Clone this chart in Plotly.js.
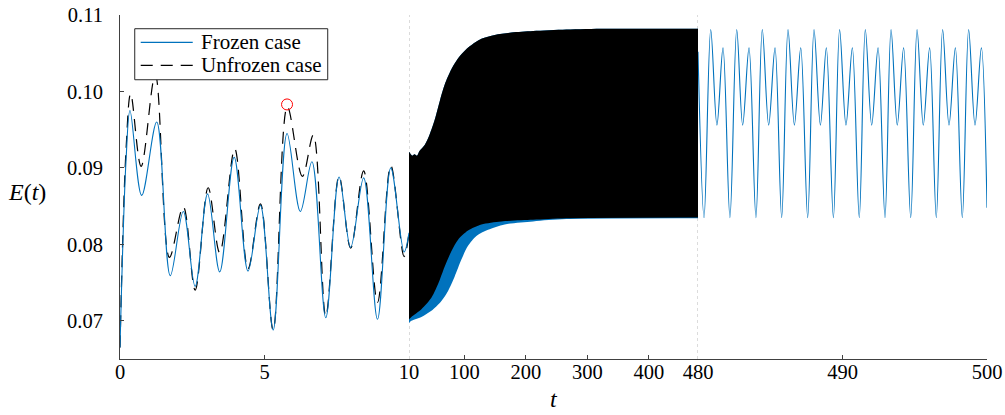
<!DOCTYPE html>
<html><head><meta charset="utf-8">
<script src="https://cdn.plot.ly/plotly-3.0.1.min.js"></script>
<style>html,body{margin:0;padding:0;background:#fff;}#chart{width:1005px;height:415px;}</style>
</head><body><div id="chart"></div>
<script>
// Panel 1 (t = 0..10)
const frozenT1 = [0, 0.21, 0.346, 0.751, 1.27, 1.74, 2.19, 2.60, 3.03, 3.45, 3.95, 4.43, 4.86, 5.30, 5.78, 6.24, 6.64, 7.12, 7.58, 7.98, 8.43, 8.91, 9.37, 9.83, 10];
const frozenE1 = [0.0665, 0.0911, 0.0975, 0.0864, 0.0960, 0.0759, 0.0843, 0.0745, 0.0866, 0.0764, 0.0914, 0.0765, 0.0851, 0.0688, 0.0945, 0.0843, 0.0908, 0.0704, 0.0888, 0.0796, 0.0887, 0.0702, 0.0900, 0.0790, 0.0815];
const unfrozenT1 = [0, 0.21, 0.37, 0.73, 1.22, 1.71, 2.19, 2.60, 3.05, 3.45, 3.97, 4.43, 4.86, 5.30, 5.79, 6.31, 6.69, 7.12, 7.58, 7.98, 8.43, 8.91, 9.37, 9.83, 10];
const unfrozenE1 = [0.0665, 0.0925, 0.0997, 0.0902, 0.1022, 0.0783, 0.0849, 0.0740, 0.0874, 0.0789, 0.0925, 0.0768, 0.0853, 0.0688, 0.0980, 0.0889, 0.0943, 0.0706, 0.0889, 0.0795, 0.0896, 0.0724, 0.0903, 0.0784, 0.0815];
const markerT = [5.78];
const markerE = [0.0983];

// Panel 2 (t = 10..480): envelopes of the fast oscillation
const unfrozenUpperT2 = [10, 11, 15, 19, 23, 27, 35.5, 43.7, 51.8, 59.9, 68.1, 78.9, 92.4, 108.7, 127.7, 149.4, 176.5, 211.7, 266, 330, 400, 480];
const unfrozenUpper2 = [0.0921, 0.0920, 0.0916, 0.0918, 0.0916, 0.0922, 0.0930, 0.0944, 0.0963, 0.0987, 0.1009, 0.1029, 0.1046, 0.1059, 0.1069, 0.1074, 0.1077, 0.1079, 0.1081, 0.1082, 0.1082, 0.1082];
const unfrozenLowerT2 = [10, 13.9, 30.2, 46.4, 57.3, 68.1, 78.9, 89.8, 106, 127.7, 160.2, 211.7, 266, 480];
const unfrozenLower2 = [0.0702, 0.0705, 0.0715, 0.0730, 0.0748, 0.0771, 0.0791, 0.0806, 0.0818, 0.0826, 0.0830, 0.0832, 0.0834, 0.0835];
const frozenLowerT2 = [10, 13.9, 30.2, 46.4, 62.7, 73.5, 84.3, 95.2, 106, 119.6, 138.5, 165.6, 211.7, 266, 480];
const frozenLower2 = [0.0697, 0.0700, 0.0705, 0.0713, 0.0726, 0.0739, 0.0758, 0.0780, 0.0798, 0.0811, 0.0819, 0.0826, 0.0830, 0.0833, 0.0834];
const frozenUpperT2 = [10, 11, 15, 19, 23, 27, 35.5, 43.7, 51.8, 59.9, 68.1, 78.9, 92.4, 108.7, 127.7, 149.4, 176.5, 211.7, 266, 330, 400, 480];
const frozenUpper2 = [0.0921, 0.0920, 0.0916, 0.0918, 0.0916, 0.0922, 0.0930, 0.0944, 0.0963, 0.0987, 0.1009, 0.1029, 0.1046, 0.1059, 0.1069, 0.1074, 0.1077, 0.1079, 0.1081, 0.1082, 0.1082, 0.1082];

// Panel 3 (t = 480..500)
const frozenT3 = [480.00,
  480.42, 480.88, 481.31, 481.73,
  482.21, 482.68, 483.09, 483.53,
  484.01, 484.45, 484.89, 485.33,
  485.79, 486.23, 486.67, 487.11,
  487.59, 488.03, 488.47, 488.88,
  489.37, 489.80, 490.24, 490.68,
  491.16, 491.58, 492.02, 492.46,
  492.94, 493.36, 493.79, 494.23,
  494.72, 495.16, 495.59, 496.03,
  496.49, 496.93, 497.37, 497.81,
  498.29, 498.73, 499.17, 499.61,
  500.00];
const frozenE3 = [0.1052,
  0.0835, 0.1081, 0.0956, 0.1057,
  0.0835, 0.1081, 0.0956, 0.1057,
  0.0835, 0.1081, 0.0956, 0.1057,
  0.0835, 0.1081, 0.0956, 0.1057,
  0.0835, 0.1081, 0.0956, 0.1057,
  0.0835, 0.1081, 0.0956, 0.1057,
  0.0835, 0.1081, 0.0956, 0.1057,
  0.0835, 0.1081, 0.0956, 0.1057,
  0.0835, 0.1081, 0.0956, 0.1057,
  0.0835, 0.1081, 0.0956, 0.1057,
  0.0835, 0.1081, 0.0956, 0.1057,
  0.0848];

const xTicks1 = [0, 5, 10];
const xTicks2 = [100, 200, 300, 400, 480];
const xTicks3 = [490, 500];
const yTicks = [0.07, 0.08, 0.09, 0.10, 0.11];
const legendLabels = ['Frozen case', 'Unfrozen case'];

const BLUE = '#0072BD';
const AX = '#404040';
const FONT = 'Liberation Serif';
const DASH = '12px,8px';

const traces = [
  {x: unfrozenT1, y: unfrozenE1, xaxis: 'x', yaxis: 'y', mode: 'lines', name: legendLabels[1],
   line: {color: '#000', width: 1.2, dash: DASH, shape: 'spline'}},
  {x: frozenT1, y: frozenE1, xaxis: 'x', yaxis: 'y', mode: 'lines', name: legendLabels[0],
   line: {color: BLUE, width: 1.1, shape: 'spline'}},
  {x: markerT, y: markerE, xaxis: 'x', yaxis: 'y', mode: 'markers',
   marker: {symbol: 'circle-open', size: 11, color: '#ff0000', line: {width: 1, color: '#ff0000'}}},
  // panel 2 bands
  {x: frozenLowerT2, y: frozenLower2, xaxis: 'x2', yaxis: 'y', mode: 'lines',
   line: {width: 0, color: BLUE, shape: 'spline', smoothing: 0.8}},
  {x: frozenUpperT2, y: frozenUpper2, xaxis: 'x2', yaxis: 'y', mode: 'lines',
   fill: 'tonexty', fillcolor: BLUE, line: {width: 0, color: BLUE, shape: 'spline', smoothing: 0.8}},
  {x: unfrozenLowerT2, y: unfrozenLower2, xaxis: 'x2', yaxis: 'y', mode: 'lines',
   line: {width: 0, color: '#000', shape: 'spline', smoothing: 0.8}},
  {x: unfrozenUpperT2, y: unfrozenUpper2, xaxis: 'x2', yaxis: 'y', mode: 'lines',
   fill: 'tonexty', fillcolor: '#000', line: {width: 0, color: '#000', shape: 'spline', smoothing: 0.8}},
  // panel 3
  {x: frozenT3, y: frozenE3, xaxis: 'x3', yaxis: 'y', mode: 'lines',
   line: {color: BLUE, width: 1.1, shape: 'spline'}}
];

const xCommon = {
  showline: true, linecolor: AX, linewidth: 1, ticks: 'inside', ticklen: 4, tickwidth: 1, tickcolor: AX,
  showgrid: false, zeroline: false, anchor: 'y', tickmode: 'array', ticklabelstandoff: -6,
  tickfont: {family: FONT, size: 20.5, color: '#000'}
};

// legend geometry in paper coordinates
const LEG = {x0: 0.0170, x1: 0.2396, y0: 0.8118, y1: 0.9601, lx0: 0.0239, lx1: 0.0839, tx: 0.0908, rows: [0.9203, 0.8534]};

const layout = {
  width: 1005, height: 415,
  margin: {l: 120, r: 18, t: 15, b: 56},
  paper_bgcolor: '#fff', plot_bgcolor: 'rgba(0,0,0,0)',
  showlegend: false,
  font: {family: FONT, color: '#000'},
  xaxis: Object.assign({}, xCommon, {domain: [0, 1/3], range: [0, 10], tickvals: xTicks1}),
  xaxis2: Object.assign({}, xCommon, {domain: [1/3, 2/3], range: [10, 480], tickvals: xTicks2}),
  xaxis3: Object.assign({}, xCommon, {domain: [2/3, 1], range: [480, 500], tickvals: xTicks3}),
  yaxis: {range: [0.065, 0.11], tickvals: yTicks, tickformat: '.2f', anchor: 'x',
    showline: true, linecolor: AX, linewidth: 1, ticks: 'inside', ticklen: 4, tickwidth: 1, tickcolor: AX,
    ticklabelstandoff: 12,
    showgrid: false, zeroline: false, tickfont: {family: FONT, size: 20.5, color: '#000'}},
  shapes: [
    {type: 'line', xref: 'x2', yref: 'paper', x0: 10, x1: 10, y0: 0, y1: 1, layer: 'below',
     line: {color: '#b8b8b8', width: 1, dash: 'dot'}},
    {type: 'line', xref: 'x2', yref: 'paper', x0: 480, x1: 480, y0: 0, y1: 1, layer: 'below',
     line: {color: '#b8b8b8', width: 1, dash: 'dot'}},
    {type: 'rect', xref: 'paper', yref: 'paper', x0: LEG.x0, x1: LEG.x1, y0: LEG.y0, y1: LEG.y1, layer: 'above',
     fillcolor: '#fff', line: {color: '#262626', width: 1}},
    {type: 'line', xref: 'paper', yref: 'paper', x0: LEG.lx0, x1: LEG.lx1, y0: LEG.rows[0], y1: LEG.rows[0], layer: 'above',
     line: {color: BLUE, width: 1.1}},
    {type: 'line', xref: 'paper', yref: 'paper', x0: LEG.lx0, x1: LEG.lx1, y0: LEG.rows[1], y1: LEG.rows[1], layer: 'above',
     line: {color: '#000', width: 1.2, dash: DASH}}
  ],
  annotations: [
    {text: legendLabels[0], xref: 'paper', yref: 'paper', x: LEG.tx, y: LEG.rows[0], xanchor: 'left', yanchor: 'middle',
     showarrow: false, font: {family: FONT, size: 21, color: '#000'}},
    {text: legendLabels[1], xref: 'paper', yref: 'paper', x: LEG.tx, y: LEG.rows[1], xanchor: 'left', yanchor: 'middle',
     showarrow: false, font: {family: FONT, size: 21, color: '#000'}},
    {text: '<i>E</i>(<i>t</i>)', xref: 'paper', yref: 'paper', x: -0.1077, y: 0.486,
     xanchor: 'center', yanchor: 'middle', showarrow: false, font: {family: FONT, size: 24, color: '#000'}},
    {text: '<i>t</i>', xref: 'paper', yref: 'paper', x: 0.5, y: -0.157, borderpad: 0,
     xanchor: 'center', yanchor: 'bottom', showarrow: false, font: {family: FONT, size: 24, color: '#000'}}
  ]
};

Plotly.newPlot('chart', traces, layout, {staticPlot: true, displayModeBar: false});
</script>
</body></html>
